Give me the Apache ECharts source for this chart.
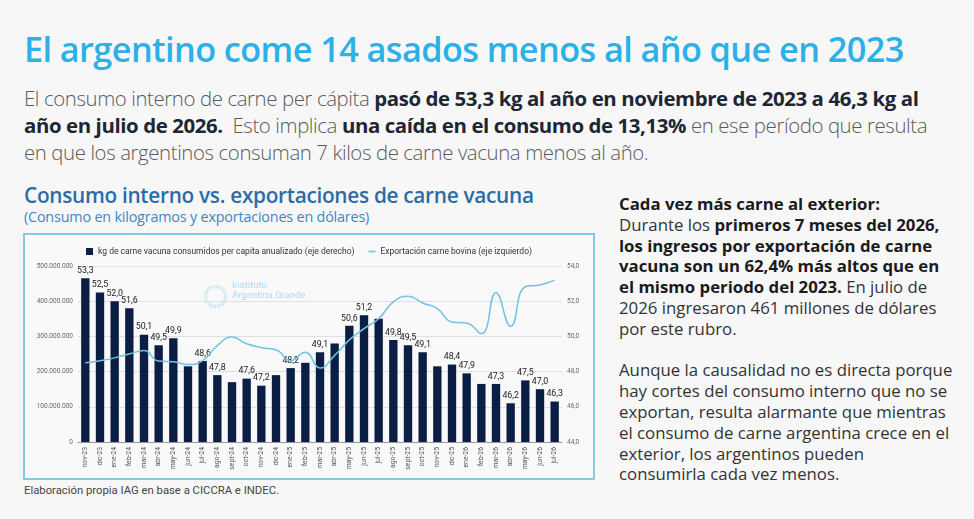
<!DOCTYPE html>
<html>
<head>
<meta charset="utf-8">
<script src="https://cdn.jsdelivr.net/npm/echarts@6/dist/echarts.min.js"></script>
<style>
  html, body { margin: 0; padding: 0; }
  body { width: 974px; height: 519px; overflow: hidden; background: #f7f7f8; position: relative; font-family: "Open Sans", sans-serif; }
  .abs { position: absolute; white-space: nowrap; }
  #titulo { left: 24px; top: 25px; font-size: 34.3px; font-weight: 600; color: #2bb0e8; letter-spacing: -0.6px; }
  #bajada { left: 24px; top: 85px; font-size: 20.4px; line-height: 27px; color: #5a5a5a; font-weight: 300; letter-spacing: -0.4px; }
  #bajada b { color: #1d2633; font-weight: 700; }
  #tituloGraf { left: 24px; top: 181px; font-size: 20.8px; font-weight: 600; color: #2c6ca6; letter-spacing: -0.3px; }
  #subGraf { left: 24px; top: 207px; font-size: 14.4px; color: #3f86c6; letter-spacing: -0.2px; }
  #caja { left: 23px; top: 233px; width: 572px; height: 247px; box-sizing: border-box; border: 2.5px solid #86c9e4; background: #f9f9fa; }
  #main { width: 100%; height: 100%; }
  #lateral { left: 619px; top: 194px; font-size: 16.8px; line-height: 20.8px; color: #333; }
  #lateral b { color: #1b1b1b; font-weight: 700; }
  #fuente { left: 24px; top: 484px; font-size: 11.3px; color: #444; font-family: Roboto, sans-serif; }
</style>
</head>
<body>
<div id="titulo" class="abs">El argentino come 14 asados menos al año que en 2023</div>
<div id="bajada" class="abs">El consumo interno de carne per cápita <b>pasó de 53,3 kg al año en noviembre de 2023 a 46,3 kg al</b><br><b>año en julio de 2026.</b>&nbsp; Esto implica <b>una caída en el consumo de 13,13%</b> en ese período que resulta<br>en que los argentinos consuman 7 kilos de carne vacuna menos al año.</div>
<div id="tituloGraf" class="abs">Consumo interno vs. exportaciones de carne vacuna</div>
<div id="subGraf" class="abs">(Consumo en kilogramos y exportaciones en dólares)</div>
<div id="caja" class="abs"><div id="main"></div></div>
<div id="lateral" class="abs"><b>Cada vez más carne al exterior:</b><br>Durante los <b>primeros 7 meses del 2026,</b><br><b>los ingresos por exportación de carne</b><br><b>vacuna son un 62,4% más altos que en</b><br><b>el mismo periodo del 2023.</b> En julio de<br>2026 ingresaron 461 millones de dólares<br>por este rubro.<br><br>Aunque la causalidad no es directa porque<br>hay cortes del consumo interno que no se<br>exportan, resulta alarmante que mientras<br>el consumo de carne argentina crece en el<br>exterior, los argentinos pueden<br>consumirla cada vez menos.</div>
<div id="fuente" class="abs">Elaboración propia IAG en base a CICCRA e INDEC.</div>
<script>
var meses = ['nov-23', 'dic-23', 'ene-24', 'feb-24', 'mar-24', 'abr-24', 'may-24', 'jun-24', 'jul-24', 'ago-24', 'sept-24',
  'oct-24', 'nov-24', 'dic-24', 'ene-25', 'feb-25', 'mar-25', 'abr-25', 'may-25', 'jun-25', 'jul-25', 'ago-25',
  'sept-25', 'oct-25', 'nov-25', 'dic-25', 'ene-26', 'feb-26', 'mar-26', 'abr-26', 'may-26', 'jun-26', 'jul-26'];

// kg per capita anualizado (eje derecho)
var consumo = [53.3, 52.5, 52.0, 51.6, 50.1, 49.5, 49.9, 48.3, 48.6, 47.8, 47.4,
  47.6, 47.2, 47.8, 48.2, 48.5, 49.1, 49.6, 50.6, 51.2, 51.0, 49.8,
  49.5, 49.1, 48.3, 48.4, 47.9, 47.3, 47.3, 46.2, 47.5, 47.0, 46.3];

// que barras llevan etiqueta en el original
var conEtiqueta = [1, 1, 1, 1, 1, 1, 1, 0, 1, 1, 0,
  1, 1, 0, 1, 0, 1, 0, 1, 1, 0, 1,
  1, 1, 0, 1, 1, 0, 1, 1, 1, 1, 1];

// exportacion en dolares (eje izquierdo)
var exportacion = [225e6, 231e6, 239e6, 250e6, 260e6, 230e6, 228e6, 220e6, 231e6, 274e6, 298e6,
  279e6, 268e6, 262e6, 231e6, 255e6, 210e6, 246e6, 290e6, 322e6, 350e6, 398e6,
  414e6, 395e6, 379e6, 341e6, 338e6, 308e6, 424e6, 329e6, 441e6, 446e6, 460e6];

var ejeIzq = { min: 0, max: 500000000, interval: 100000000 };
var ejeDer = { min: 44, max: 54, interval: 2 };

function coma(v) { return v.toFixed(1).replace('.', ','); }
function puntos(v) { return String(v).replace(/\B(?=(\d{3})+(?!\d))/g, '.'); }

var myChart = echarts.init(document.getElementById('main'));

var barras = consumo.map(function (v, i) {
  return { value: v, label: { show: conEtiqueta[i] === 1 } };
});

myChart.setOption({
  animation: false,
  textStyle: { fontFamily: 'Roboto, sans-serif' },
  legend: {
    top: 7,
    left: 'center',
    itemGap: 14,
    textStyle: { fontSize: 8.5, color: '#333' },
    data: [
      { name: 'kg de carne vacuna consumidos per capita anualizado (eje derecho)', icon: 'rect' },
      { name: 'Exportación carne bovina (eje izquierdo)', icon: 'path://M0,0 H10 V2.4 H0 Z' }
    ],
    itemWidth: 7,
    itemHeight: 7
  },
  grid: { left: 53, right: 31, top: 31, bottom: 36 },
  xAxis: {
    type: 'category',
    data: meses,
    axisTick: { show: false },
    axisLine: { lineStyle: { color: '#999', width: 1 } },
    axisLabel: { rotate: 90, interval: 0, fontSize: 6.8, color: '#555', margin: 5 }
  },
  yAxis: [
    {
      type: 'value',
      min: ejeIzq.min, max: ejeIzq.max, interval: ejeIzq.interval,
      axisLabel: { fontSize: 6.5, color: '#666', formatter: puntos, margin: 5 },
      axisLine: { show: false },
      splitLine: { lineStyle: { color: '#e0e0e0' } }
    },
    {
      type: 'value',
      min: ejeDer.min, max: ejeDer.max, interval: ejeDer.interval,
      axisLabel: { fontSize: 6.5, color: '#666', formatter: coma, margin: 5 },
      axisLine: { show: false },
      splitLine: { show: false }
    }
  ],
  graphic: [
    {
      type: 'circle', left: 178, top: 49,
      shape: { r: 10 },
      style: { fill: 'none', stroke: '#b3dbee', lineWidth: 3.5, lineDash: [1, 1.5] }
    },
    { type: 'text', left: 207, top: 46, style: { text: 'Instituto', fontSize: 9.5, fill: '#b0d9ed', fontFamily: 'Roboto' } },
    { type: 'text', left: 207, top: 56, style: { text: 'Argentina Grande', fontSize: 9.5, fill: '#b0d9ed', fontFamily: 'Roboto' } }
  ],
  series: [
    {
      name: 'kg de carne vacuna consumidos per capita anualizado (eje derecho)',
      type: 'bar',
      yAxisIndex: 1,
      barWidth: '57%',
      itemStyle: { color: '#0b1f45' },
      label: { position: 'top', fontSize: 8.8, color: '#222', distance: 3, formatter: function (p) { return coma(p.value); } },
      data: barras
    },
    {
      name: 'Exportación carne bovina (eje izquierdo)',
      type: 'line',
      yAxisIndex: 0,
      smooth: true,
      symbol: 'none',
      lineStyle: { color: '#72c2e2', width: 1.5 },
      itemStyle: { color: '#72c2e2' },
      data: exportacion
    }
  ]
});
</script>
</body>
</html>
